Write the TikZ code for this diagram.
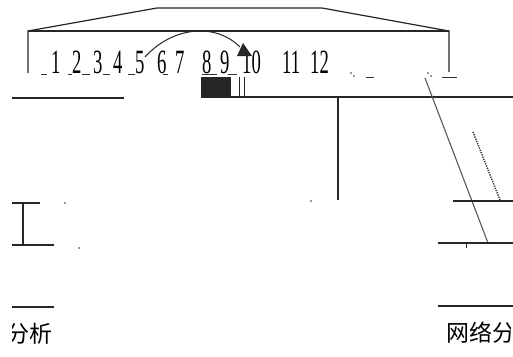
\documentclass[tikz,border=0pt]{standalone}
\usepackage{fontspec}
\setmainfont{Liberation Serif}
\newfontfamily\cjk{Noto Sans CJK SC}
\usetikzlibrary{calc}
\begin{document}
\begin{tikzpicture}[x=1pt,y=-1pt,
  ln/.style={line width=1.2pt,draw=black!85},
  thin/.style={line width=0.8pt,draw=black!85},
  dig/.style={anchor=base west,inner sep=0pt,font=\fontsize{34}{34}\selectfont},
  cjktext/.style={anchor=base west,inner sep=0pt,font=\cjk\fontsize{23}{23}\selectfont},
  us/.style={line width=0.9pt,draw=black!80}]
\useasboundingbox[fill=white] (0,0) rectangle (513,356);
% top trapezoid frame
\draw[ln] (28,73) -- (28,31) -- (157,8) -- (322,8) -- (449,31) -- (449,72);
\draw[ln] (28,31) -- (449,31);
% digits
\foreach \n/\x in {1/51,2/72,3/93,4/113,5/135,6/157,7/175,8/202,9/220,10/242,11/282,12/310}
  \node[dig] (d\n) at (\x,73) {\scalebox{0.55}[1]{\n}};
% underscores
\foreach \a/\b in {41/47,68/72,82/90,103/110,128/135,163/168,202/210,210/217,228/237}
  \draw[us] (\a,74) -- (\b,74);
% small marks after 12
\fill[black!80] (351,73) circle (0.8) (354,76) circle (0.8) (428,73) circle (0.8) (431,76) circle (0.8);
\draw[us] (366,77) -- (374,77);
\draw[us] (442,77) -- (457,77);
% curved arrow from 5 to 10
\coordinate (cs) at (145,57);
\coordinate (ce) at (240,47);
\draw[line width=1pt,black!85] (cs) .. controls (172,27) and (215,22) .. (ce);
\fill[black!85] (243,43) -- (252,56) -- (237,56) -- cycle;
% black block and bars
\fill[black!85] (201,77) rectangle (231,97);
\draw[thin] (239,77) -- (239,97);
\draw[thin] (244,77) -- (244,97);
\draw[ln] (201,97) -- (513,97);
\draw[ln] (338,97) -- (338,200);
\draw[ln] (12,98) -- (124,98);
% diagonal lines
\draw[line width=1.1pt,black!65] (425,78) -- (488,243);
\draw[line width=1.4pt,black!85,dash pattern=on 1.2pt off 1.2pt] (473,132) -- (500,200);
% right horizontals
\draw[ln] (453,201) -- (513,201);
\draw[ln] (438,243) -- (513,243);
\draw[thin] (466,243) -- (466,248);
\draw[ln] (438,306) -- (513,306);
% left shape
\draw[ln] (12,203) -- (40,203);
\draw[ln] (23,203) -- (23,245);
\draw[ln] (12,245) -- (54,245);
\draw[ln] (12,307) -- (54,307);
\fill[black!80] (65,203) circle (0.8) (79,248) circle (0.9) (311,201) circle (0.8);
% texts
\begin{scope}
\clip (12,300) rectangle (120,356);
\node[cjktext] (t1) at (6,342) {分析};
\end{scope}
\begin{scope}
\clip (400,300) rectangle (510,356);
\node[cjktext] (t2) at (446,341) {网络分};
\end{scope}
\end{tikzpicture}
\end{document}
